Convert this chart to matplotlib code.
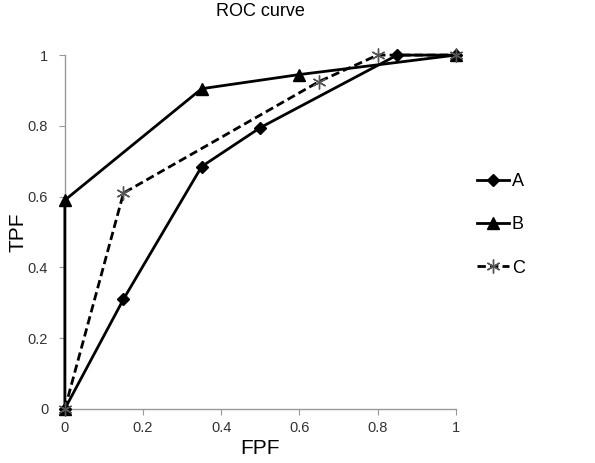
import matplotlib.pyplot as plt

plt.rcParams['font.family'] = ['Liberation Sans', 'DejaVu Sans']

# dados
fpf_a = [0, 0.15, 0.35, 0.5, 0.85, 1.0]
tpf_a = [0, 0.31, 0.685, 0.795, 1.0, 1.0]

fpf_b = [0, 0, 0.35, 0.6, 1.0]
tpf_b = [0, 0.59, 0.905, 0.945, 1.0]

fpf_c = [0, 0.15, 0.65, 0.8, 1.0]
tpf_c = [0, 0.61, 0.925, 1.0, 1.0]

ticks = [0, 0.2, 0.4, 0.6, 0.8, 1]
tick_labels = ['0', '0.2', '0.4', '0.6', '0.8', '1']

fig = plt.figure(figsize=(5.95, 4.63), dpi=100)
ax = fig.add_axes([0.109, 0.117, 0.657, 0.764])

ax.plot(fpf_a, tpf_a, color='black', lw=2, marker='D', ms=6, label='A', clip_on=False, zorder=3)
ax.plot(fpf_b, tpf_b, color='black', lw=2, marker='^', ms=8, label='B', clip_on=False, zorder=3)
ax.plot(fpf_c, tpf_c, color='black', lw=2, ls=(0, (3, 1.5)), marker=(6, 2, 0), ms=10,
        mec='#555555', mew=1, label='C', clip_on=False, zorder=3)

ax.set_xlim(0, 1)
ax.set_ylim(0, 1)
ax.set_xticks(ticks)
ax.set_xticklabels(tick_labels)
ax.set_yticks(ticks)
ax.set_yticklabels(tick_labels)

for s in ['top', 'right']:
    ax.spines[s].set_visible(False)
for s in ['left', 'bottom']:
    ax.spines[s].set_color('#999999')
    ax.spines[s].set_linewidth(1)
ax.tick_params(length=4, color='#999999', labelsize=10.5, labelcolor='#333333')
ax.tick_params(axis='y', pad=8)
ax.tick_params(axis='x', pad=5)

ax.set_title('ROC curve', fontsize=13, pad=28)
ax.set_xlabel('FPF', fontsize=15, labelpad=3)
ax.set_ylabel('TPF', fontsize=15, labelpad=0)

ax.legend(loc='center left', bbox_to_anchor=(1.035, 0.52), frameon=False, fontsize=13,
          handlelength=1.8, handletextpad=0.15, labelspacing=1.45, borderaxespad=0)

fig.savefig('out.png', dpi=100)
